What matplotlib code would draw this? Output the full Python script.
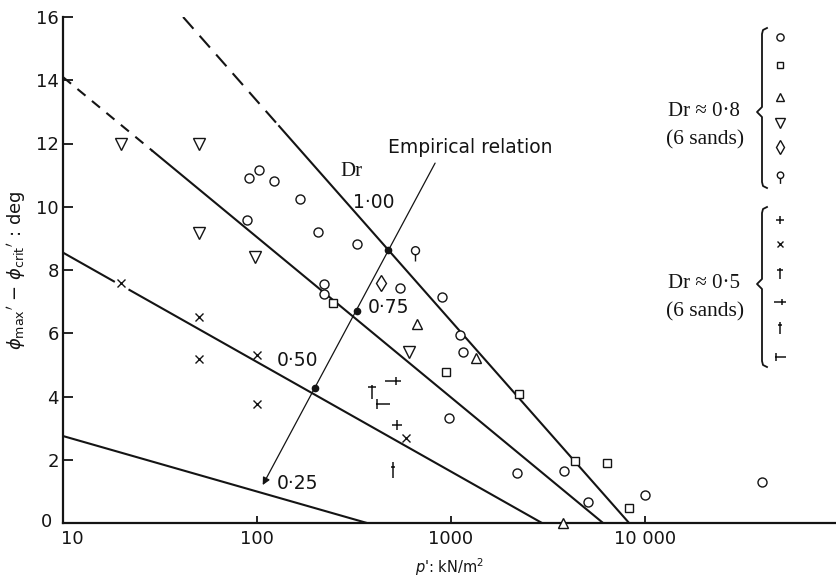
import matplotlib
matplotlib.use("Agg")
import matplotlib.pyplot as plt
from matplotlib.path import Path
from matplotlib.transforms import Affine2D, ScaledTranslation

W, H = 837, 581

# ---- measured points, Dr ~ 0.8 sands (p' in kN/m2, phi_max - phi_crit in deg)
circle_p = [89, 91, 102, 122, 167, 206, 221, 222, 327, 545, 900, 1112, 1153,
            977, 2188, 3820, 5080, 10000, 40100]
circle_phi = [9.58, 10.91, 11.16, 10.81, 10.25, 9.20, 7.56, 7.24, 8.82, 7.43,
              7.15, 5.94, 5.41, 3.32, 1.58, 1.64, 0.66, 0.89, 1.30]
square_p = [247, 942, 2244, 4353, 6370, 8280]
square_phi = [6.96, 4.77, 4.08, 1.96, 1.90, 0.47]
tri_up_p = [668, 1346, 3775]
tri_up_phi = [6.29, 5.22, 0.0]
tri_down_p = [20, 50, 50, 98, 608]
tri_down_phi = [12.0, 12.0, 9.17, 8.41, 5.41]
diamond_p = [436]
diamond_phi = [7.59]
tail_p = [652]
tail_phi = [8.54]

# ---- measured points, Dr ~ 0.5 sands
plus_p = [527]
plus_phi = [3.10]
cross_p = [20, 50, 50, 100, 100, 586]
cross_phi = [7.6, 6.5, 5.19, 5.31, 3.76, 2.69]
dagger_p = [392]
dagger_phi = [4.21]
wide_plus_p = [502]
wide_plus_phi = [4.49]
stem_p = [502]
stem_phi = [1.68]
hook_plus_p = [441]
hook_plus_phi = [3.76]

# ---- Dr lines (end points and dash/solid break points)
dr100_dash_p, dr100_dash_phi = [41.6, 130], [16.0, 12.55]
dr100_p, dr100_phi = [130, 8280], [12.55, 0.0]
dr075_dash_p, dr075_dash_phi = [10, 29], [14.1, 11.76]
dr075_p, dr075_phi = [29, 6080], [11.76, 0.0]
dr050_a_p, dr050_a_phi = [10, 18.3], [8.55, 7.64]
dr050_b_p, dr050_b_phi = [22, 2945], [7.37, 0.0]
dr025_p, dr025_phi = [10, 369], [2.75, 0.0]

dr_labels = ["1·00", "0·75", "0·50", "0·25"]
dr_label_p = [401, 479, 161, 161]
dr_label_phi = [10.15, 6.80, 5.15, 1.26]

# ---- empirical relation arrow
emp_start = (828, 11.38)
emp_end = (107, 1.20)
emp_dot_p = [473, 327, 199]
emp_dot_phi = [8.63, 6.70, 4.27]

x_ticks = [10, 100, 1000, 10000]
x_tick_labels = ["10", "100", "1000", "10 000"]
y_ticks = [0, 2, 4, 6, 8, 10, 12, 14, 16]

INK = "#141414"


def seg_path(segs):
    verts, codes = [], []
    for a, b in segs:
        verts += [a, b]
        codes += [Path.MOVETO, Path.LINETO]
    return Path(verts, codes)


m_tail = Path.make_compound_path(
    Path.circle((0, 0.35), 0.5),
    Path([(0, -0.15), (0, -1.0)], [Path.MOVETO, Path.LINETO]))
m_dagger = seg_path([((0, 0.6), (0, -1.0)), ((-0.45, 0.3), (0.45, 0.3))])
m_wide_plus = seg_path([((-1, 0), (1, 0)), ((0.35, -0.5), (0.35, 0.5))])
m_stem = seg_path([((0, 1), (0, -1)), ((-0.25, 0.45), (0.25, 0.45))])
m_hook_plus = seg_path([((-0.8, 0), (1, 0)), ((-0.6, -0.7), (-0.6, 0.7))])

# style per symbol: marker, size, face, edge width
styles = {
    "circle": ("o", 6.5, "white", 1.0),
    "square": ("s", 6.0, "white", 1.0),
    "tri_up": ("^", 7.5, "white", 1.0),
    "tri_down": ("v", 9.0, "white", 1.0),
    "diamond": ("d", 8.6, "white", 1.0),
    "tail": (m_tail, 11.5, "white", 1.0),
    "plus": ("+", 6.5, "none", 1.1),
    "cross": ("x", 5.5, "none", 1.0),
    "dagger": (m_dagger, 13.0, "none", 1.1),
    "wide_plus": (m_wide_plus, 11.5, "none", 1.1),
    "stem": (m_stem, 11.0, "none", 1.1),
    "hook_plus": (m_hook_plus, 11.0, "none", 1.1),
}

series = [
    ("circle", circle_p, circle_phi),
    ("square", square_p, square_phi),
    ("tri_up", tri_up_p, tri_up_phi),
    ("tri_down", tri_down_p, tri_down_phi),
    ("diamond", diamond_p, diamond_phi),
    ("tail", tail_p, tail_phi),
    ("plus", plus_p, plus_phi),
    ("cross", cross_p, cross_phi),
    ("dagger", dagger_p, dagger_phi),
    ("wide_plus", wide_plus_p, wide_plus_phi),
    ("stem", stem_p, stem_phi),
    ("hook_plus", hook_plus_p, hook_plus_phi),
]

plt.rcParams["font.family"] = ["DejaVu Sans"]
plt.rcParams["mathtext.fontset"] = "dejavusans"

fig = plt.figure(figsize=(W / 100, H / 100), dpi=100)
ax = fig.add_axes([63 / W, 58 / H, 774 / W, 506 / H])
ax.set_xscale("log")
ax.set_xlim(10, 10 ** (1 + 774 / 194))
ax.set_ylim(0, 16)

LW = 1.5
ax.plot(dr100_dash_p, dr100_dash_phi, color=INK, lw=LW, ls=(0, (7.5, 4.5)))
ax.plot(dr100_p, dr100_phi, color=INK, lw=LW)
ax.plot(dr075_dash_p, dr075_dash_phi, color=INK, lw=LW, ls=(0, (5, 4)))
ax.plot(dr075_p, dr075_phi, color=INK, lw=LW)
ax.plot(dr050_a_p, dr050_a_phi, color=INK, lw=LW)
ax.plot(dr050_b_p, dr050_b_phi, color=INK, lw=LW)
ax.plot(dr025_p, dr025_phi, color=INK, lw=LW)

for name, xs, ys in series:
    mk, ms, fc, mew = styles[name]
    ax.plot(xs, ys, ls="none", marker=mk, ms=ms, mfc=fc, mec=INK, mew=mew,
            clip_on=False, zorder=4)

# empirical relation
ax.annotate("", xy=emp_end, xytext=emp_start,
            arrowprops=dict(arrowstyle="-|>", color=INK, lw=0.9,
                            mutation_scale=11, shrinkA=0, shrinkB=0),
            zorder=5)
ax.plot(emp_dot_p, emp_dot_phi, ls="none", marker="o", ms=4.5, color=INK,
        zorder=5)
ax.text(1253, 11.86, "Empirical relation", fontsize=13.5, ha="center",
        va="center", color=INK)
ax.text(305, 11.10, "Dr", fontsize=15, family="Liberation Serif",
        ha="center", va="center", color=INK)
for lab, lp, lphi in zip(dr_labels, dr_label_p, dr_label_phi):
    ax.text(lp, lphi, lab, fontsize=13.5, ha="center", va="center", color=INK)

# axes styling
for side in ("top", "right"):
    ax.spines[side].set_visible(False)
for side in ("left", "bottom"):
    ax.spines[side].set_linewidth(1.6)
    ax.spines[side].set_color(INK)
ax.set_xticks(x_ticks)
ax.set_xticklabels(x_tick_labels)
ax.minorticks_off()
ax.set_yticks(y_ticks)
ax.tick_params(axis="both", direction="in", colors=INK, labelsize=13)
ax.tick_params(axis="y", length=7, width=1.3, pad=3)
ax.tick_params(axis="x", length=5, width=1.3, pad=5)

# nudge the corner labels apart: "10" to the right, "0" to the left
xlab0 = ax.get_xticklabels()[0]
xlab0.set_transform(xlab0.get_transform()
                    + ScaledTranslation(7 / 72, 0, fig.dpi_scale_trans))
ylab0 = ax.get_yticklabels()[0]
ylab0.set_transform(ylab0.get_transform()
                    + ScaledTranslation(-5 / 72, 2 / 72, fig.dpi_scale_trans))

ax.set_xlabel("$p$': kN/m$^2$", fontsize=10.5, labelpad=6, color=INK)
ax.set_ylabel(r"$\phi_{\rm max}{}^{\prime}$ $-$ $\phi_{\rm crit}{}^{\prime}$ : deg",
              fontsize=13, labelpad=6, color=INK)

# key: braces, symbols and captions in pixel coordinates
pix = Affine2D().scale(1 / W, -1 / H).translate(0, 1) + fig.transFigure


def brace(x, y0, y1, ytip):
    pts = [(x + 5, y0), (x + 1, y0 + 2), (x, y0 + 6), (x, ytip - 5),
           (x - 5, ytip), (x, ytip + 5), (x, y1 - 6), (x + 1, y1 - 2),
           (x + 5, y1)]
    xs, ys = zip(*pts)
    fig.add_artist(plt.Line2D(xs, ys, transform=pix, color=INK, lw=1.3))


key_groups = [
    (["circle", "square", "tri_up", "tri_down", "diamond", "tail"],
     [37, 65, 97, 123, 147, 177], (28, 188, 112), "Dr ≈ 0·8"),
    (["plus", "cross", "dagger", "wide_plus", "stem", "hook_plus"],
     [220, 244, 272, 302, 328, 357], (207, 367, 284), "Dr ≈ 0·5"),
]
for names, ys, (b0, b1, bt), caption in key_groups:
    brace(762, b0, b1, bt)
    for name, yy in zip(names, ys):
        mk, ms, fc, mew = styles[name]
        fig.add_artist(plt.Line2D([780], [yy], transform=pix, ls="none",
                                  marker=mk, ms=ms * 0.8, mfc=fc, mec=INK,
                                  mew=mew))
    fig.text(704, bt, caption, transform=pix, fontsize=15,
             family="Liberation Serif", ha="center", va="center", color=INK)
    fig.text(705, bt + 28, "(6 sands)", transform=pix, fontsize=15.5,
             family="Liberation Serif", ha="center", va="center", color=INK)

fig.savefig("out.png", dpi=100, facecolor="white")
